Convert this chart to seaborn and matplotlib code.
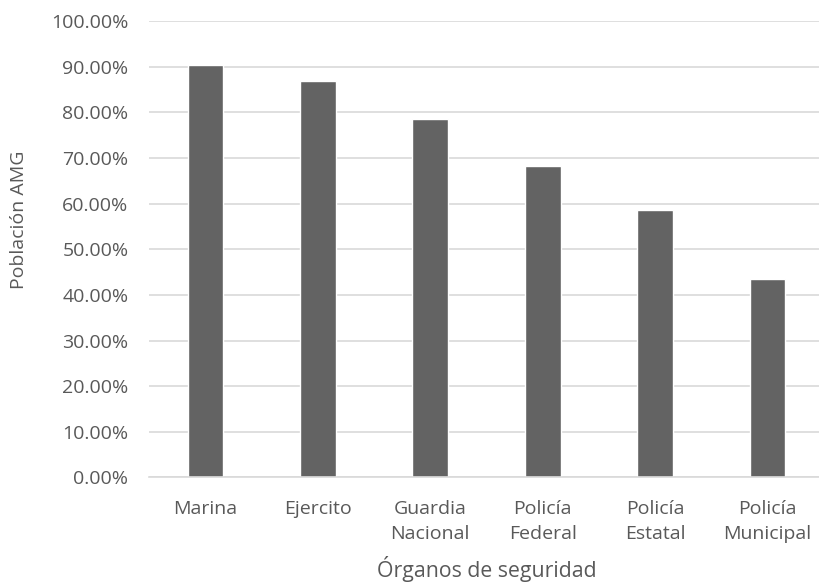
import pandas as pd
import matplotlib.pyplot as plt
import seaborn as sns
from matplotlib.ticker import PercentFormatter

organos = ["Marina", "Ejercito", "Guardia\nNacional", "Policía\nFederal",
           "Policía\nEstatal", "Policía\nMunicipal"]
poblacion = [0.9036, 0.8679, 0.7847, 0.6832, 0.5854, 0.4358]
yticks = [i / 10 for i in range(11)]

sns.set_theme(style="white")
plt.rcParams["font.family"] = ["Open Sans", "DejaVu Sans"]

text_color = "#595959"
df = pd.DataFrame({"organo": organos, "poblacion": poblacion})

fig = plt.figure(figsize=(8.19, 5.85), dpi=100)
# plot area runs slightly past the right edge, like the original
ax = fig.add_axes([0.1823, 0.1838, 0.8234, 0.7803])
sns.barplot(data=df, x="organo", y="poblacion", color="#636363",
            width=0.318, saturation=1, ax=ax)

ax.set_ylim(0, 1.0)
ax.set_yticks(yticks)
ax.yaxis.set_major_formatter(PercentFormatter(1.0, decimals=2))
ax.grid(axis="y", color="#d9d9d9", linewidth=1.2)
ax.set_axisbelow(True)
for side in ["top", "right", "left"]:
    ax.spines[side].set_visible(False)
ax.spines["bottom"].set_color("#d9d9d9")
ax.spines["bottom"].set_linewidth(1.2)
ax.tick_params(axis="both", length=0, labelsize=14, labelcolor=text_color)
ax.tick_params(axis="x", pad=16)
ax.tick_params(axis="y", pad=15)
for lbl in ax.get_xticklabels():
    lbl.set_linespacing(1.55)
    lbl.set_verticalalignment("top")

ax.set_xlabel("")
ax.set_ylabel("")
fig.text(487 / 819, 1 - 577 / 585, "Órganos de seguridad", fontsize=15.3,
         color=text_color, ha="center", va="baseline")
fig.text(19 / 819, 1 - 220 / 585, "Población AMG", fontsize=14,
         color=text_color, ha="center", va="center", rotation=90)

fig.savefig("out.png", dpi=100)
